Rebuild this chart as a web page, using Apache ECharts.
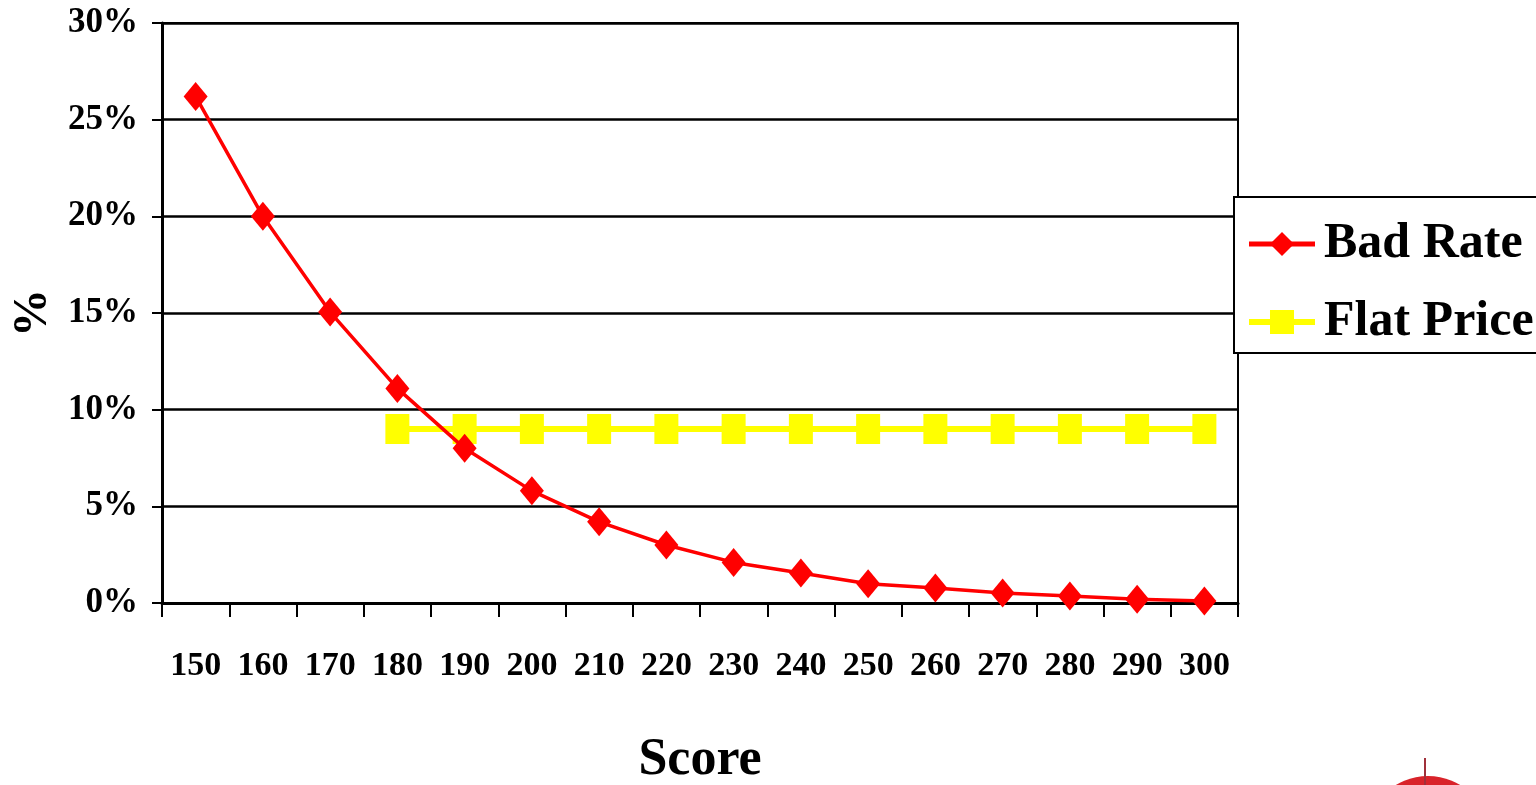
<!DOCTYPE html>
<html>
<head>
<meta charset="utf-8">
<script src="https://cdn.jsdelivr.net/npm/echarts@6/dist/echarts.min.js"></script>
<style>html,body{margin:0;padding:0;background:#fff;}#c{width:1536px;height:785px;}</style>
</head>
<body>
<div id="c"></div>
<script>
const categories = ['150','160','170','180','190','200','210','220','230','240','250','260','270','280','290','300'];
const badRate = [26.2, 20.0, 15.05, 11.1, 8.0, 5.8, 4.2, 3.0, 2.1, 1.55, 1.0, 0.78, 0.52, 0.36, 0.2, 0.1];
const flatPrice = [null, null, null, 9, 9, 9, 9, 9, 9, 9, 9, 9, 9, 9, 9, 9];
const yTicks = [0, 5, 10, 15, 20, 25, 30];

const FONT = '"Liberation Serif", "Times New Roman", serif';
const chart = echarts.init(document.getElementById('c'));
chart.setOption({
  animation: false,
  backgroundColor: '#fff',
  grid: { left: 162, right: 298, top: 23, bottom: 182, containLabel: false, outerBoundsMode: 'none', show: true, borderColor: '#000', borderWidth: 2, backgroundColor: 'transparent' },
  legend: {
    orient: 'vertical', left: 1234, top: 197,
    width: 320,
    backgroundColor: '#fff', borderColor: '#000', borderWidth: 2,
    padding: [22, 40, 6, 12],
    itemWidth: 66, itemHeight: 30, itemGap: 28,
    textStyle: { fontFamily: FONT, fontWeight: 'bold', fontSize: 50, color: '#000', padding: [0, 0, 0, 4] },
    data: [
      { name: 'Bad Rate', lineStyle: { width: 5 } },
      { name: 'Flat Price', lineStyle: { width: 6 } }
    ]
  },
  xAxis: {
    type: 'category', data: categories, boundaryGap: true,
    name: 'Score', nameLocation: 'middle', nameGap: 132,
    nameTextStyle: { fontFamily: FONT, fontWeight: 'bold', fontSize: 52, color: '#000' },
    axisLine: { lineStyle: { color: '#000', width: 3 } },
    axisTick: { show: true, length: 14, lineStyle: { color: '#000', width: 2 } },
    axisLabel: { interval: 0, margin: 46, fontFamily: FONT, fontWeight: 'bold', fontSize: 34, color: '#000' }
  },
  yAxis: {
    type: 'value', min: 0, max: 30, interval: 5,
    name: '%', nameLocation: 'middle', nameGap: 104, nameRotate: 90,
    nameTextStyle: { fontFamily: FONT, fontWeight: 'bold', fontSize: 48, color: '#000' },
    axisLine: { show: true, lineStyle: { color: '#000', width: 3 } },
    axisTick: { show: true, length: 10, lineStyle: { color: '#000', width: 2 } },
    splitLine: { show: true, lineStyle: { color: '#000', width: 2.5 } },
    axisLabel: { margin: 24, formatter: '{value}%', fontFamily: FONT, fontWeight: 'bold', fontSize: 35, color: '#000' }
  },
  series: [
    {
      name: 'Bad Rate', type: 'line', data: badRate,
      symbol: 'diamond', symbolSize: [24, 29],
      lineStyle: { color: '#ff0000', width: 3.5 },
      itemStyle: { color: '#ff0000' },
      z: 3
    },
    {
      name: 'Flat Price', type: 'line', data: flatPrice,
      symbol: 'rect', symbolSize: [24, 30],
      lineStyle: { color: '#ffff00', width: 6 },
      itemStyle: { color: '#ffff00' },
      z: 2
    }
  ],
  graphic: [
    { type: 'circle', shape: { cx: 1428, cy: 838, r: 62 }, style: { fill: '#d9232a' }, silent: true },
    { type: 'line', shape: { x1: 1425, y1: 758, x2: 1425, y2: 785 }, style: { stroke: '#a0303a', lineWidth: 2 }, silent: true }
  ]
});
</script>
</body>
</html>
